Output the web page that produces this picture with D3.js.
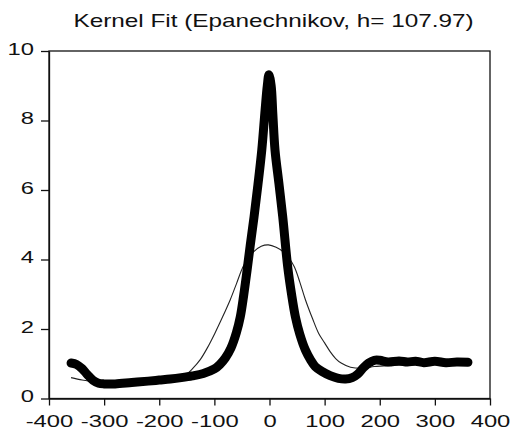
<!DOCTYPE html>
<html>
<head>
<meta charset="utf-8">
<script src="https://cdn.jsdelivr.net/npm/d3@7"></script>
<style>
  body { margin: 0; background: #fff; }
  svg { display: block; font-family: "Liberation Sans", Arial, sans-serif; }
</style>
</head>
<body>
<div id="chart"></div>
<script>
// thick curve (kernel fit)
const fitX = [-360,-350,-340,-330,-320,-310,-300,-280,-250,-220,-200,-180,-160,-140,-120,-100,-90,-80,-70,-60,-53,-47,-41,-35,-28,-21,-14,-8,-4,-1,3,6,10,17,24,33,40,47,55,65,75,83,95,110,125,138,150,160,170,180,190,200,215,235,250,265,280,300,320,340,360];
const fitY = [1.02,0.98,0.86,0.68,0.52,0.44,0.42,0.42,0.46,0.5,0.53,0.56,0.6,0.65,0.72,0.85,0.98,1.17,1.45,1.9,2.35,2.95,3.65,4.4,5.23,6.15,7.15,8.3,9.0,9.32,9.0,8.2,7.15,6.2,5.23,3.79,3.0,2.35,1.85,1.4,1.1,0.92,0.78,0.66,0.58,0.56,0.6,0.7,0.88,1.02,1.1,1.1,1.05,1.08,1.05,1.07,1.03,1.07,1.03,1.05,1.04];

// thin curve
const thinX = [-360,-340,-320,-300,-250,-200,-160,-150,-140,-126,-113,-99,-85,-71,-60,-48,-38,-29,-15,-2,12,25,35,45,55,65,78,89,100,110,120,130,147,170,190,220,260,300,360];
const thinY = [0.6,0.53,0.49,0.47,0.5,0.55,0.63,0.7,0.85,1.11,1.45,1.88,2.35,2.85,3.3,3.79,4.05,4.22,4.38,4.42,4.35,4.22,4.05,3.79,3.35,2.85,2.3,1.88,1.6,1.35,1.15,1.02,0.9,0.87,0.92,0.95,0.97,0.98,1.0];

const xTicks = [-400,-300,-200,-100,0,100,200,300,400];
const yTicks = [0,2,4,6,8,10];
const title = 'Kernel Fit (Epanechnikov, h= 107.97)';

const W = 510, H = 432;
const margin = { top: 51, right: 20, bottom: 33.5, left: 49 };
const width = W - margin.left - margin.right;
const height = H - margin.top - margin.bottom;
const stretch = 1.4;

const svg = d3.select('#chart')
  .append('svg')
  .attr('width', W)
  .attr('height', H);

const g = svg.append('g')
  .attr('transform', `translate(${margin.left},${margin.top})`);

const x = d3.scaleLinear().domain([-400, 400]).range([0, width]);
const y = d3.scaleLinear().domain([0, 10]).range([height, 0]);

svg.append('text')
  .attr('transform', `translate(${margin.left + width / 2 + 4},27) scale(1.39,1)`)
  .attr('text-anchor', 'middle')
  .style('font-size', '17.5px')
  .attr('fill', '#111')
  .text(title);

const line = d3.line()
  .x(d => x(d[0]))
  .y(d => y(d[1]))
  .curve(d3.curveCatmullRom.alpha(0.5));

g.append('path')
  .attr('d', line(thinX.map((v, i) => [v, thinY[i]])))
  .attr('fill', 'none')
  .attr('stroke', '#222')
  .attr('stroke-width', 1.1);

g.append('path')
  .attr('d', line(fitX.map((v, i) => [v, fitY[i]])))
  .attr('fill', 'none')
  .attr('stroke', '#000')
  .attr('stroke-width', 9)
  .attr('stroke-linecap', 'round')
  .attr('stroke-linejoin', 'round');

// frame
g.append('rect')
  .attr('x', 0).attr('y', 0)
  .attr('width', width).attr('height', height)
  .attr('fill', 'none')
  .attr('stroke', '#111')
  .attr('stroke-width', 1.3);

const xAxis = g.append('g')
  .attr('transform', `translate(0,${height})`)
  .call(d3.axisBottom(x).tickValues(xTicks).tickSize(7).tickSizeOuter(0).tickFormat(d => String(d)));

xAxis.selectAll('text')
  .attr('y', 16.5)
  .attr('transform', `scale(${stretch},1)`);

const yAxis = g.append('g')
  .call(d3.axisLeft(y).tickValues(yTicks).tickSize(8).tickSizeOuter(0).tickFormat(d => String(d)));

yAxis.selectAll('text')
  .attr('x', -15 / stretch)
  .attr('dy', '0.2em')
  .attr('transform', `scale(${stretch},1)`);

[xAxis, yAxis].forEach(a => {
  a.select('.domain').attr('stroke', '#111').attr('stroke-width', 1.3);
  a.selectAll('.tick line').attr('stroke', '#111').attr('stroke-width', 1.3);
  a.selectAll('text').style('font-size', '17px').attr('fill', '#111').style('font-family', '"Liberation Sans", Arial, sans-serif');
});
</script>
</body>
</html>
